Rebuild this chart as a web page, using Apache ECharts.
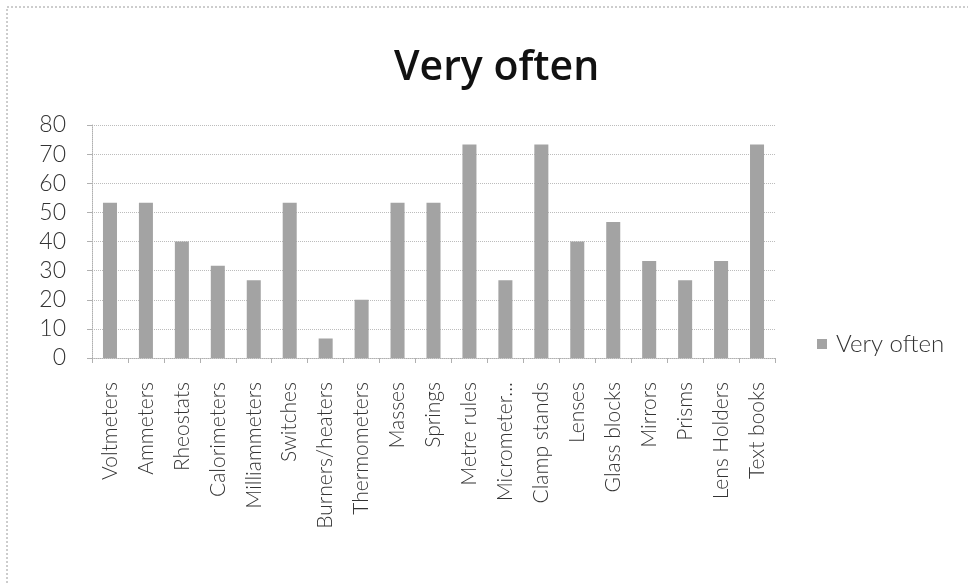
<!DOCTYPE html>
<html>
<head>
<meta charset="utf-8">
<script src="https://cdn.jsdelivr.net/npm/echarts@6/dist/echarts.min.js"></script>
<style>
  html, body { margin: 0; padding: 0; background: #ffffff; }
  #chart { width: 968px; height: 583px; }
</style>
</head>
<body>
<div id="chart"></div>
<script>
// Equipment names along the x axis
const categories = [
  'Voltmeters', 'Ammeters', 'Rheostats', 'Calorimeters', 'Milliammeters',
  'Switches', 'Burners/heaters', 'Thermometers', 'Masses', 'Springs',
  'Metre rules', 'Micrometer...', 'Clamp stands', 'Lenses', 'Glass blocks',
  'Mirrors', 'Prisms', 'Lens Holders', 'Text books'
];

// Share of responses answering "Very often" for each item
const veryOften = [
  53.3, 53.3, 40, 31.7, 26.7,
  53.3, 6.7, 20, 53.3, 53.3,
  73.3, 26.7, 73.3, 40, 46.7,
  33.3, 26.7, 33.3, 73.3
];

// Value axis ticks
const yTicks = [0, 10, 20, 30, 40, 50, 60, 70, 80];

const titleFont = '"Open Sans", "DejaVu Sans", sans-serif';
const lightFont = 'Lato, "Open Sans", "DejaVu Sans", sans-serif';
const chart = echarts.init(document.getElementById('chart'), null, { renderer: 'canvas' });

chart.setOption({
  animation: false,
  backgroundColor: '#ffffff',
  title: {
    text: 'Very often',
    left: 389,
    top: 43,
    textStyle: { fontFamily: titleFont, fontSize: 41, fontWeight: 600, color: '#111111' }
  },
  legend: {
    data: ['Very often'],
    left: 812,
    top: 327,
    icon: 'rect',
    itemWidth: 10,
    itemHeight: 10,
    itemGap: 8,
    textStyle: { fontFamily: lightFont, fontSize: 24, fontWeight: 300, color: '#333333', padding: [0, 0, 0, 4] }
  },
  grid: { left: 92, right: 193, top: 125, bottom: 225, containLabel: false },
  xAxis: {
    type: 'category',
    data: categories,
    axisLine: { show: true, lineStyle: { color: '#b0b0b0', type: 'dotted', width: 1 } },
    axisTick: { show: true, length: 5, lineStyle: { color: '#b0b0b0' } },
    axisLabel: {
      rotate: 90,
      margin: 24,
      interval: 0,
      fontFamily: lightFont,
      fontSize: 21,
      fontWeight: 300,
      color: '#333333'
    }
  },
  yAxis: {
    type: 'value',
    min: yTicks[0],
    max: yTicks[yTicks.length - 1],
    interval: yTicks[1] - yTicks[0],
    axisLine: { show: true, lineStyle: { color: '#b0b0b0', type: 'dotted', width: 1 } },
    axisTick: { show: true, length: 5, lineStyle: { color: '#b0b0b0' } },
    splitLine: { show: true, lineStyle: { color: '#bcbcbc', type: 'dotted', width: 1 } },
    axisLabel: {
      margin: 26,
      fontFamily: lightFont,
      fontSize: 23,
      fontWeight: 300,
      color: '#333333'
    }
  },
  series: [{
    name: 'Very often',
    type: 'bar',
    data: veryOften,
    barWidth: '39%',
    itemStyle: { color: '#a3a3a3' }
  }],
  graphic: [
    {
      type: 'polyline',
      silent: true,
      shape: { points: [[7, 583], [7, 7], [968, 7]] },
      style: { stroke: '#9a9a9a', lineWidth: 1, lineDash: [2, 2], fill: null }
    }
  ]
});
</script>
</body>
</html>
